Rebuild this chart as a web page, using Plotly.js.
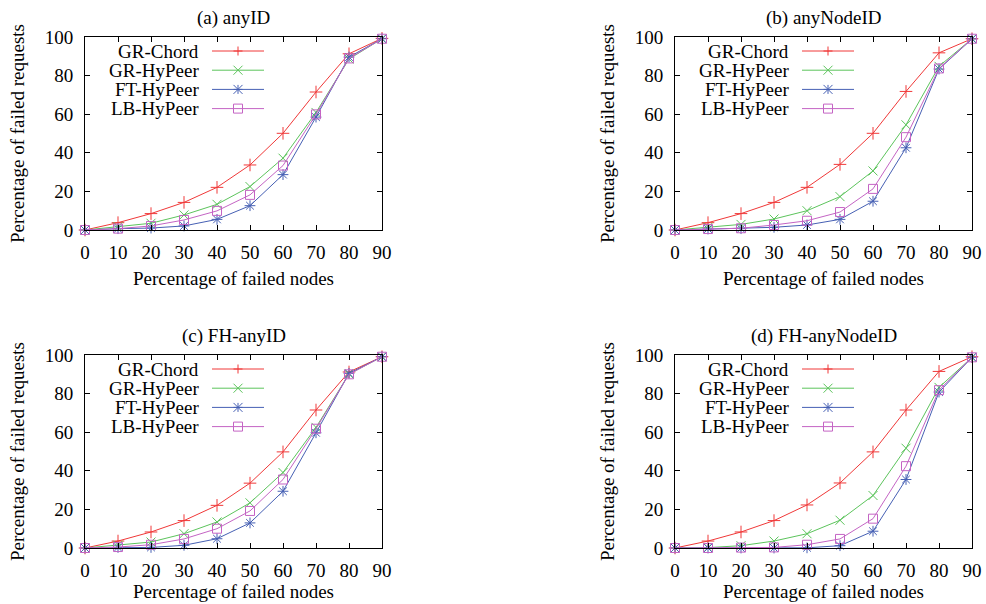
<!DOCTYPE html>
<html>
<head>
<meta charset="utf-8">
<script src="https://cdn.plot.ly/plotly-3.0.1.min.js"></script>
<style>html,body{margin:0;padding:0;background:#fff;}#chart{width:986px;height:604px;}</style>
</head>
<body>
<div id="chart"></div>
<script>
// ---- data ----
const failedNodes = [0, 10, 20, 30, 40, 50, 60, 70, 80, 90];
const seriesNames = ["GR-Chord", "GR-HyPeer", "FT-HyPeer", "LB-HyPeer"];
const panelTitles = ["(a) anyID", "(b) anyNodeID", "(c) FH-anyID", "(d) FH-anyNodeID"];
const xAxisTitle = "Percentage of failed nodes";
const yAxisTitle = "Percentage of failed requests";
const xTickVals = [0, 10, 20, 30, 40, 50, 60, 70, 80, 90];
const yTickVals = [0, 20, 40, 60, 80, 100];

// (a) anyID
const anyID_grChord  = [0, 3.8, 8.5, 14.3, 22.1, 33.7, 50.1, 71.5, 91.3, 99.3];
const anyID_grHyPeer = [0, 1.7, 3.5, 7.8, 13.3, 22.5, 37.2, 60.9, 88.6, 99.1];
const anyID_ftHyPeer = [0, 0.7, 1.0, 2.1, 5.5, 12.6, 28.7, 58.5, 89.6, 99.1];
const anyID_lbHyPeer = [0, 0.7, 2.1, 5.2, 9.9, 18.2, 33.4, 59.9, 88.9, 99.1];

// (b) anyNodeID
const anyNodeID_grChord  = [0, 3.8, 8.5, 14.3, 22.1, 34.0, 50.1, 71.8, 91.8, 99.1];
const anyNodeID_grHyPeer = [0, 1.4, 2.9, 5.7, 10.0, 17.3, 30.6, 54.5, 84.8, 99.1];
const anyNodeID_ftHyPeer = [0, 0.5, 0.7, 1.4, 2.6, 5.5, 14.9, 42.6, 83.4, 99.0];
const anyNodeID_lbHyPeer = [0, 0.5, 0.9, 2.6, 4.8, 9.3, 21.3, 48.1, 83.7, 99.1];

// (c) FH-anyID
const fhAnyID_grChord  = [0, 3.6, 8.3, 14.2, 22.1, 33.6, 49.8, 71.5, 91.2, 99.1];
const fhAnyID_grHyPeer = [0, 1.4, 3.1, 7.4, 13.5, 23.4, 39.1, 62.5, 90.1, 99.1];
const fhAnyID_ftHyPeer = [0, 0.3, 0.3, 1.4, 4.8, 13.0, 29.4, 59.7, 90.5, 99.1];
const fhAnyID_lbHyPeer = [0, 0.5, 1.7, 4.7, 10.0, 19.2, 35.5, 61.8, 90.0, 99.1];

// (d) FH-anyNodeID
const fhAnyNodeID_grChord  = [0, 3.6, 8.3, 14.2, 22.3, 33.7, 49.8, 71.5, 91.5, 99.1];
const fhAnyNodeID_grHyPeer = [0, 0.2, 1.2, 3.6, 7.4, 14.4, 27.2, 51.7, 83.2, 98.8];
const fhAnyNodeID_ftHyPeer = [0, 0, 0, 0, 0.1, 1.2, 8.7, 35.5, 80.8, 98.8];
const fhAnyNodeID_lbHyPeer = [0, 0, 0.2, 0.3, 1.7, 4.7, 15.2, 42.4, 81.8, 98.8];

const panelData = [
  [anyID_grChord, anyID_grHyPeer, anyID_ftHyPeer, anyID_lbHyPeer],
  [anyNodeID_grChord, anyNodeID_grHyPeer, anyNodeID_ftHyPeer, anyNodeID_lbHyPeer],
  [fhAnyID_grChord, fhAnyID_grHyPeer, fhAnyID_ftHyPeer, fhAnyID_lbHyPeer],
  [fhAnyNodeID_grChord, fhAnyNodeID_grHyPeer, fhAnyNodeID_ftHyPeer, fhAnyNodeID_lbHyPeer]
];

// ---- styles ----
const colors = ["#f03838", "#5cc45c", "#4660b4", "#c464c4"];
const symbols = ["cross-thin-open", "x-thin-open", "asterisk-open", "square-open"];
const legendGlyph = ["plus", "x", "asterisk", "square"];
const W = 986, H = 604;
const FONT = "Liberation Serif, Times New Roman, serif";
const FS = 19;

// panel plot areas in pixels [left, right, top, bottom]
const boxes = [
  [85, 382, 37, 230],
  [675, 972, 37, 230],
  [85, 382, 355, 548],
  [675, 972, 355, 548]
];

const px = x => x / W;
const py = y => 1 - y / H;

const traces = [];
const layout = {
  width: W, height: H,
  margin: {l: 0, r: 0, t: 0, b: 0},
  paper_bgcolor: "#fff", plot_bgcolor: "#fff",
  showlegend: false,
  font: {family: FONT, size: FS, color: "#000"},
  annotations: [], shapes: []
};

function glyphPath(kind, s) {
  const plus = `M${-s},0L${s},0M0,${-s}L0,${s}`;
  const cross = `M${-s},${-s}L${s},${s}M${-s},${s}L${s},${-s}`;
  if (kind === "plus") return plus;
  if (kind === "x") return cross;
  if (kind === "asterisk") return plus + cross;
  return `M${-s},${-s}L${s},${-s}L${s},${s}L${-s},${s}Z`;
}

boxes.forEach((b, p) => {
  const n = p + 1;
  const xa = n === 1 ? "xaxis" : "xaxis" + n;
  const ya = n === 1 ? "yaxis" : "yaxis" + n;
  const axStyle = {
    showline: true, linecolor: "#000", linewidth: 1, mirror: "allticks",
    ticks: "inside", ticklen: 5, tickwidth: 1, tickcolor: "#000",
    showgrid: false, zeroline: false, fixedrange: true,
    tickfont: {family: FONT, size: FS, color: "#000"}
  };
  layout[xa] = Object.assign({}, axStyle, {
    domain: [px(b[0]), px(b[1])], range: [0, 90], tickvals: xTickVals,
    anchor: n === 1 ? "y" : "y" + n, ticklabelstandoff: 5
  });
  layout[ya] = Object.assign({}, axStyle, {
    domain: [py(b[3]), py(b[2])], range: [0, 100], tickvals: yTickVals,
    anchor: n === 1 ? "x" : "x" + n, ticklabelstandoff: 7,
    title: {text: yAxisTitle, font: {family: FONT, size: FS}, standoff: 15}
  });

  panelData[p].forEach((vals, s) => {
    traces.push({
      x: failedNodes, y: vals, type: "scatter", mode: "lines+markers",
      name: seriesNames[s], cliponaxis: false,
      xaxis: n === 1 ? "x" : "x" + n, yaxis: n === 1 ? "y" : "y" + n,
      line: {color: colors[s], width: 1},
      marker: {symbol: symbols[s], size: 9, color: colors[s], line: {color: colors[s], width: 1}}
    });
  });

  // panel title
  layout.annotations.push({
    text: panelTitles[p], xref: "paper", yref: "paper",
    x: px((b[0] + b[1]) / 2), y: py(b[2] - 19), xanchor: "center", yanchor: "middle",
    showarrow: false, font: {family: FONT, size: FS, color: "#000"}
  });
  // x axis title, kept inside the page
  layout.annotations.push({
    text: xAxisTitle, xref: "paper", yref: "paper",
    x: px((b[0] + b[1]) / 2), y: py(Math.min(b[3] + 50, H - 1)), xanchor: "center", yanchor: "bottom",
    yshift: -11, showarrow: false, font: {family: FONT, size: FS, color: "#000"}
  });

  // key (text left, sample right, like the original)
  seriesNames.forEach((name, s) => {
    const rowY = b[2] + 14 + s * 19.2;
    layout.annotations.push({
      text: name, xref: "paper", yref: "paper",
      x: px(b[0] + 116), y: py(rowY), xanchor: "right", yanchor: "middle",
      showarrow: false, font: {family: FONT, size: FS, color: "#000"}
    });
    layout.shapes.push({
      type: "line", xref: "paper", yref: "paper",
      x0: px(b[0] + 127), x1: px(b[0] + 179), y0: py(rowY), y1: py(rowY),
      line: {color: colors[s], width: 1}
    });
    layout.shapes.push({
      type: "path", xref: "paper", yref: "paper",
      xsizemode: "pixel", ysizemode: "pixel",
      xanchor: px(b[0] + 153), yanchor: py(rowY),
      path: glyphPath(legendGlyph[s], 4.5),
      line: {color: colors[s], width: 1}
    });
  });
});

// keep bottom-row x titles fully on the page
layout.annotations.forEach(a => {
  if (a.text === xAxisTitle && a.y < 0.05) { a.y = 0; a.yanchor = "bottom"; a.yshift = 0; }
});

Plotly.newPlot("chart", traces, layout, {staticPlot: true, displayModeBar: false});
</script>
</body>
</html>
